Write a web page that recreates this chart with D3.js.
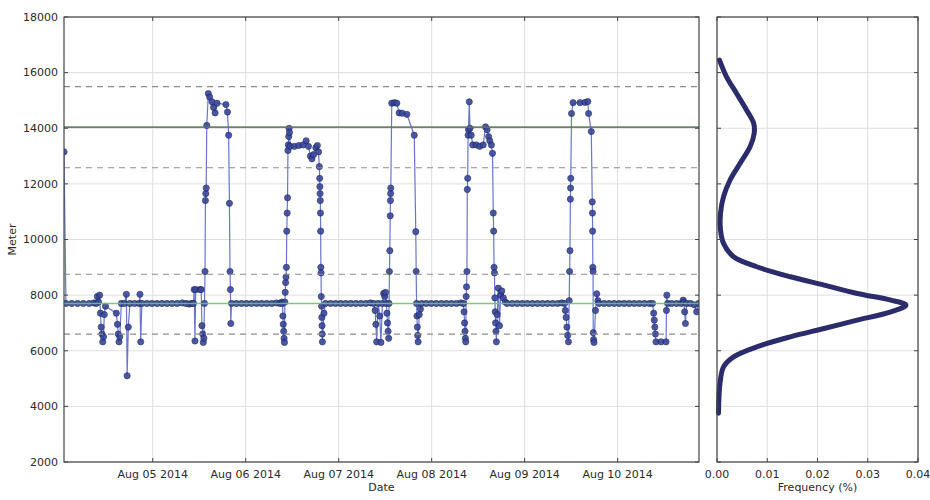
<!DOCTYPE html>
<html>
<head>
<meta charset="utf-8">
<script src="https://cdn.jsdelivr.net/npm/d3@7"></script>
<style>
  html, body { margin: 0; padding: 0; background: #fff; }
  svg { display: block; font-family: "DejaVu Sans", sans-serif; }
</style>
</head>
<body>
<svg id="chart" width="930" height="500"></svg>
<script>
// Altitude log: hours after 2014-08-04 00:00 and altitude in meters
const obsHour = [
  1.1, 1.6, 3.1, 4.6, 6.1, 7.6, 8.8, 9.4, 9.7, 10.0, 10.3, 10.5, 10.7, 10.9, 11.1, 11.3, 11.5, 11.8,
  14.6, 14.9, 15.1, 15.3, 15.5, 15.9, 16.7, 17.2, 17.4, 17.7, 18.1, 19.3, 20.5, 20.7, 20.9, 21.2,
  22.5, 23.8, 25.1, 26.4, 27.7, 29.0, 30.3, 31.6, 32.6, 33.4, 34.0,
  34.5, 34.7, 34.9, 35.1, 36.2, 36.5, 36.7, 36.9, 37.05, 37.2, 37.35,
  37.5, 37.6, 37.7, 37.8, 37.95, 38.35, 38.7, 39.3, 39.7, 40.1, 40.6, 42.9, 43.3, 43.6, 43.8, 43.95, 44.05, 44.15, 44.35,
  45.6, 46.9, 48.2, 49.5, 50.8, 52.1, 53.4, 54.7, 55.9, 56.8, 57.3,
  57.5, 57.6, 57.7, 57.8, 57.9, 58.0, 58.1, 58.2, 58.3, 58.4, 58.5, 58.6, 58.7, 58.8, 58.9, 59.0, 59.1, 59.2,
  59.3, 59.5, 60.6, 61.7, 62.8, 63.6, 64.2, 64.7, 65.1, 65.5, 66.1, 66.5, 66.8, 67.0,
  67.1, 67.15, 67.2, 67.25, 67.3, 67.35, 67.4, 67.45, 67.5, 67.6, 67.65, 67.7, 67.75, 67.8, 68.2, 68.6,
  69.9, 71.2, 72.5, 73.8, 75.1, 76.4, 77.7, 79.0, 80.2,
  81.0, 81.4, 81.6, 81.8, 82.2, 82.6, 82.9, 83.3, 83.6, 83.9, 84.1, 84.3, 84.45, 84.6, 84.75, 84.9, 85.0,
  85.1, 85.2, 85.3, 85.35, 85.4, 85.45, 85.7, 86.4, 87.0, 87.6, 88.4, 89.6, 91.5, 91.9, 92.0, 92.1, 92.2, 92.3, 92.4, 92.5,
  92.8, 93.1, 93.4, 94.6, 95.9, 97.2, 98.5, 99.8, 101.1, 102.4, 103.6,
  104.2, 104.35, 104.5, 104.6, 104.7, 104.8, 104.9, 105.0, 105.1, 105.2, 105.3, 105.4, 105.5, 105.7, 105.9,
  106.2, 106.6, 107.5, 108.4, 109.3, 109.9, 110.3, 110.7, 111.0, 111.4, 111.7,
  111.9, 112.0, 112.1, 112.2, 112.3, 112.4, 112.5, 112.6, 112.7,
  112.9, 113.2, 113.5, 113.8, 114.1, 114.5, 115.0, 115.5,
  116.8, 118.1, 119.4, 120.7, 122.0, 123.3, 124.6, 125.9, 127.2, 128.5, 129.6,
  130.3, 130.5, 130.7, 130.9, 131.1, 131.3, 131.5, 131.6, 131.7, 131.8, 131.85, 131.9, 132.1, 132.5, 134.3, 135.6, 136.3, 136.5, 137.2,
  137.45, 137.5, 137.55, 137.6, 137.65, 137.7, 137.8, 137.9, 138.3, 138.6, 138.9, 139.2,
  140.5, 141.8, 143.1, 144.4, 145.7, 147.0, 148.3, 149.6, 150.9, 152.2,
  153.0, 153.3, 153.45, 153.6, 153.75, 153.9, 155.2, 156.5, 156.6, 156.7, 156.9,
  157.9, 159.2, 160.4, 160.9, 161.1, 161.3, 161.5, 161.8, 162.8, 163.8, 164.4, 164.9
];
const obsMeter = [
  13150, 7700, 7700, 7700, 7700, 7700, 7720, 7700, 7950, 7750, 8000, 7350, 6850, 6600, 6320, 6500, 7300, 7600,
  7350, 6950, 6600, 6320, 6500, 7700, 7700, 8030, 5100, 6850, 7700, 7700, 7700, 8030, 6320, 7700,
  7700, 7700, 7700, 7700, 7700, 7700, 7700, 7720, 7700, 7680, 7700,
  7700, 8200, 6350, 8200, 8200, 8200, 6900, 6600, 6300, 6450, 7700,
  8850, 11400, 11650, 11850, 14100, 15250, 15120, 14950, 14750, 14550, 14900, 14850, 14580, 13750, 11300, 8850, 8200, 6980, 7700,
  7700, 7700, 7700, 7700, 7700, 7700, 7700, 7700, 7720, 7700, 7750,
  7700, 7250, 6950, 6700, 6450, 6300, 7750, 8100, 8450, 8650, 9000, 10300, 10950, 11500, 13200, 13400, 13700, 14000,
  13850, 13350, 13350, 13380, 13400, 13550, 13350, 13000, 12900, 13050, 13300, 13380, 13150, 12620,
  12200, 11900, 11650, 11400, 10950, 10300, 9000, 8800, 7950, 7600, 7200, 6900, 6600, 6320, 7350, 7700,
  7700, 7700, 7700, 7700, 7700, 7700, 7700, 7700, 7720,
  7700, 7450, 6950, 6320, 7700, 7250, 6300, 7700, 8060, 7950, 8100, 7700, 7350, 7000, 6700, 6450, 7700,
  8850, 9600, 10850, 11400, 11650, 11850, 14900, 14920, 14900, 14550, 14540, 14500, 13750, 10280, 8850, 7700, 7250, 6850, 6550, 6320,
  7300, 7500, 7700, 7700, 7700, 7700, 7700, 7700, 7700, 7700, 7720,
  7700, 7400, 7000, 6700, 6450, 6320, 7950, 8300, 8850, 11800, 12200, 13750, 13950, 14950, 14000,
  13750, 13400, 13400, 13350, 13400, 14050, 13950, 13700, 13550, 13400, 13100,
  10950, 10300, 9000, 8800, 7900, 7400, 7000, 6700, 6320,
  7300, 8250, 6900, 8000, 8150, 7900, 7750, 7700,
  7700, 7700, 7700, 7700, 7700, 7700, 7700, 7700, 7700, 7700, 7720,
  7700, 7450, 7200, 6850, 6550, 6320, 7800, 8850, 9600, 11450, 11850, 12200, 14530, 14920, 14920, 14930, 14960, 14530, 13880,
  11350, 10950, 10300, 9000, 8850, 6650, 6400, 6300, 7450, 8050, 7800, 7700,
  7700, 7700, 7700, 7700, 7700, 7700, 7700, 7700, 7700, 7700,
  7700, 7350, 7100, 6850, 6600, 6320, 6320, 6320, 7450, 8000, 7700,
  7700, 7700, 7700, 7820, 7750, 7400, 6980, 7700, 7700, 7650, 7400, 7700
];

// Mode centres (solid) and one-spread bands (dashed)
const modeCenters = [7700, 14040];
const modeColors = ["#74bf74", "#5f755f"];
const spreadLines = [6600, 8750, 12580, 15500];

// Altitude distribution: meters and frequency
const densMeter = [16450, 15850, 15250, 14650, 14180, 13820, 13340, 12740, 12140, 11540, 10940, 10340, 9860, 9380, 9020, 8660, 8360, 8060, 7820, 7640, 7400, 7100, 6800, 6500, 6140, 5780, 5420, 4830, 3750];
const densFreq  = [0.0005, 0.0019, 0.0039, 0.0059, 0.0073, 0.0074, 0.0066, 0.0046, 0.0026, 0.0013, 0.0007, 0.0007, 0.0013, 0.0033, 0.0079, 0.0146, 0.0213, 0.0279, 0.0346, 0.0376, 0.0346, 0.0279, 0.0213, 0.0146, 0.0079, 0.0033, 0.0013, 0.0006, 0.0003];

// Axis ticks
const meterTicks = [2000, 4000, 6000, 8000, 10000, 12000, 14000, 16000, 18000];
const freqTicks = [0.00, 0.01, 0.02, 0.03, 0.04];
const startDay = new Date(2014, 7, 4);

const svg = d3.select("#chart");
const main = { left: 64, right: 699, top: 17, bottom: 462 };
const side = { left: 717, right: 918, top: 17, bottom: 462 };

const toDate = h => new Date(startDay.getTime() + h * 3600000);
const x = d3.scaleTime()
  .domain([toDate(1.1), toDate(165.0)])
  .range([main.left, main.right]);
const y = d3.scaleLinear().domain([2000, 18000]).range([main.bottom, main.top]);
const fx = d3.scaleLinear().domain([0, 0.04]).range([side.left, side.right]);

const dayTicks = d3.timeDay.range(d3.timeDay.ceil(x.domain()[0]), x.domain()[1]);
const fmtDay = d3.timeFormat("%b %d %Y");

const gridColor = "#dedede";
const frameColor = "#444";
const textColor = "#2a2a2a";

// ---- main panel ----
const gMain = svg.append("g");
const clipMain = svg.append("clipPath").attr("id", "clipMain")
  .append("rect").attr("x", main.left).attr("y", main.top)
  .attr("width", main.right - main.left).attr("height", main.bottom - main.top);

gMain.append("g").selectAll("line").data(meterTicks).join("line")
  .attr("x1", main.left).attr("x2", main.right)
  .attr("y1", d => y(d)).attr("y2", d => y(d))
  .attr("stroke", gridColor).attr("stroke-width", 1);
gMain.append("g").selectAll("line").data(dayTicks).join("line")
  .attr("x1", d => x(d)).attr("x2", d => x(d))
  .attr("y1", main.top).attr("y2", main.bottom)
  .attr("stroke", gridColor).attr("stroke-width", 1);

const series = obsHour.map((h, i) => ({ t: toDate(h), v: obsMeter[i] }));
const plot = gMain.append("g").attr("clip-path", "url(#clipMain)");
plot.append("path").datum(series)
  .attr("d", d3.line().x(d => x(d.t)).y(d => y(d.v)))
  .attr("fill", "none").attr("stroke", "#4f5ec4").attr("stroke-width", 1.2).attr("opacity", 0.85);
plot.append("g").selectAll("circle").data(series).join("circle")
  .attr("cx", d => x(d.t)).attr("cy", d => y(d.v)).attr("r", 3.1)
  .attr("fill", "#3a4899").attr("stroke", "#1c2566").attr("stroke-width", 0.7).attr("opacity", 0.9);

plot.append("g").selectAll("line").data(spreadLines).join("line")
  .attr("x1", main.left).attr("x2", main.right)
  .attr("y1", d => y(d)).attr("y2", d => y(d))
  .attr("stroke", "#8c8c8c").attr("stroke-width", 1.2).attr("stroke-dasharray", "6,5");
plot.append("g").selectAll("line").data(modeCenters).join("line")
  .attr("x1", main.left).attr("x2", main.right)
  .attr("y1", d => y(d)).attr("y2", d => y(d))
  .attr("stroke", (d, i) => modeColors[i]).attr("stroke-width", 1.6).attr("opacity", 0.9);

// ticks pointing inward on all four sides
const tickLen = 4;
const gTicks = gMain.append("g").attr("stroke", frameColor).attr("stroke-width", 1);
meterTicks.forEach(v => {
  gTicks.append("line").attr("x1", main.left).attr("x2", main.left + tickLen).attr("y1", y(v)).attr("y2", y(v));
  gTicks.append("line").attr("x1", main.right).attr("x2", main.right - tickLen).attr("y1", y(v)).attr("y2", y(v));
});
dayTicks.forEach(d => {
  gTicks.append("line").attr("x1", x(d)).attr("x2", x(d)).attr("y1", main.bottom).attr("y2", main.bottom - tickLen);
  gTicks.append("line").attr("x1", x(d)).attr("x2", x(d)).attr("y1", main.top).attr("y2", main.top + tickLen);
});

gMain.append("rect").attr("x", main.left).attr("y", main.top)
  .attr("width", main.right - main.left).attr("height", main.bottom - main.top)
  .attr("fill", "none").attr("stroke", frameColor).attr("stroke-width", 1.2);

gMain.append("g").selectAll("text").data(meterTicks).join("text")
  .attr("x", main.left - 6).attr("y", d => y(d)).attr("dy", "0.35em")
  .attr("text-anchor", "end").attr("font-size", 11).attr("fill", textColor)
  .text(d => d);
gMain.append("g").selectAll("text").data(dayTicks).join("text")
  .attr("x", d => x(d)).attr("y", main.bottom + 16)
  .attr("text-anchor", "middle").attr("font-size", 11).attr("fill", textColor)
  .text(d => fmtDay(d));
gMain.append("text").attr("x", (main.left + main.right) / 2).attr("y", 491)
  .attr("text-anchor", "middle").attr("font-size", 11).attr("fill", textColor).text("Date");
gMain.append("text")
  .attr("transform", `translate(16,${(main.top + main.bottom) / 2}) rotate(-90)`)
  .attr("text-anchor", "middle").attr("font-size", 11).attr("fill", textColor).text("Meter");

// ---- distribution panel ----
const gSide = svg.append("g");
gSide.append("g").selectAll("line").data(meterTicks).join("line")
  .attr("x1", side.left).attr("x2", side.right)
  .attr("y1", d => y(d)).attr("y2", d => y(d))
  .attr("stroke", gridColor).attr("stroke-width", 1);
gSide.append("g").selectAll("line").data(freqTicks).join("line")
  .attr("x1", d => fx(d)).attr("x2", d => fx(d))
  .attr("y1", side.top).attr("y2", side.bottom)
  .attr("stroke", gridColor).attr("stroke-width", 1);

const dens = densMeter.map((m, i) => ({ m, f: densFreq[i] }));
gSide.append("path").datum(dens)
  .attr("d", d3.line().x(d => fx(d.f)).y(d => y(d.m)).curve(d3.curveCatmullRom.alpha(0.5)))
  .attr("fill", "none").attr("stroke", "#2b2c6c").attr("stroke-width", 5)
  .attr("stroke-linecap", "round").attr("stroke-linejoin", "round");

const gTicks2 = gSide.append("g").attr("stroke", frameColor).attr("stroke-width", 1);
meterTicks.forEach(v => {
  gTicks2.append("line").attr("x1", side.left).attr("x2", side.left + tickLen).attr("y1", y(v)).attr("y2", y(v));
  gTicks2.append("line").attr("x1", side.right).attr("x2", side.right - tickLen).attr("y1", y(v)).attr("y2", y(v));
});
freqTicks.forEach(f => {
  gTicks2.append("line").attr("x1", fx(f)).attr("x2", fx(f)).attr("y1", side.bottom).attr("y2", side.bottom - tickLen);
  gTicks2.append("line").attr("x1", fx(f)).attr("x2", fx(f)).attr("y1", side.top).attr("y2", side.top + tickLen);
});

gSide.append("rect").attr("x", side.left).attr("y", side.top)
  .attr("width", side.right - side.left).attr("height", side.bottom - side.top)
  .attr("fill", "none").attr("stroke", frameColor).attr("stroke-width", 1.2);

gSide.append("g").selectAll("text").data(freqTicks).join("text")
  .attr("x", d => fx(d)).attr("y", side.bottom + 16)
  .attr("text-anchor", "middle").attr("font-size", 11).attr("fill", textColor)
  .text(d => d3.format(".2f")(d));
gSide.append("text").attr("x", (side.left + side.right) / 2).attr("y", 491)
  .attr("text-anchor", "middle").attr("font-size", 11).attr("fill", textColor).text("Frequency (%)");
</script>
</body>
</html>
